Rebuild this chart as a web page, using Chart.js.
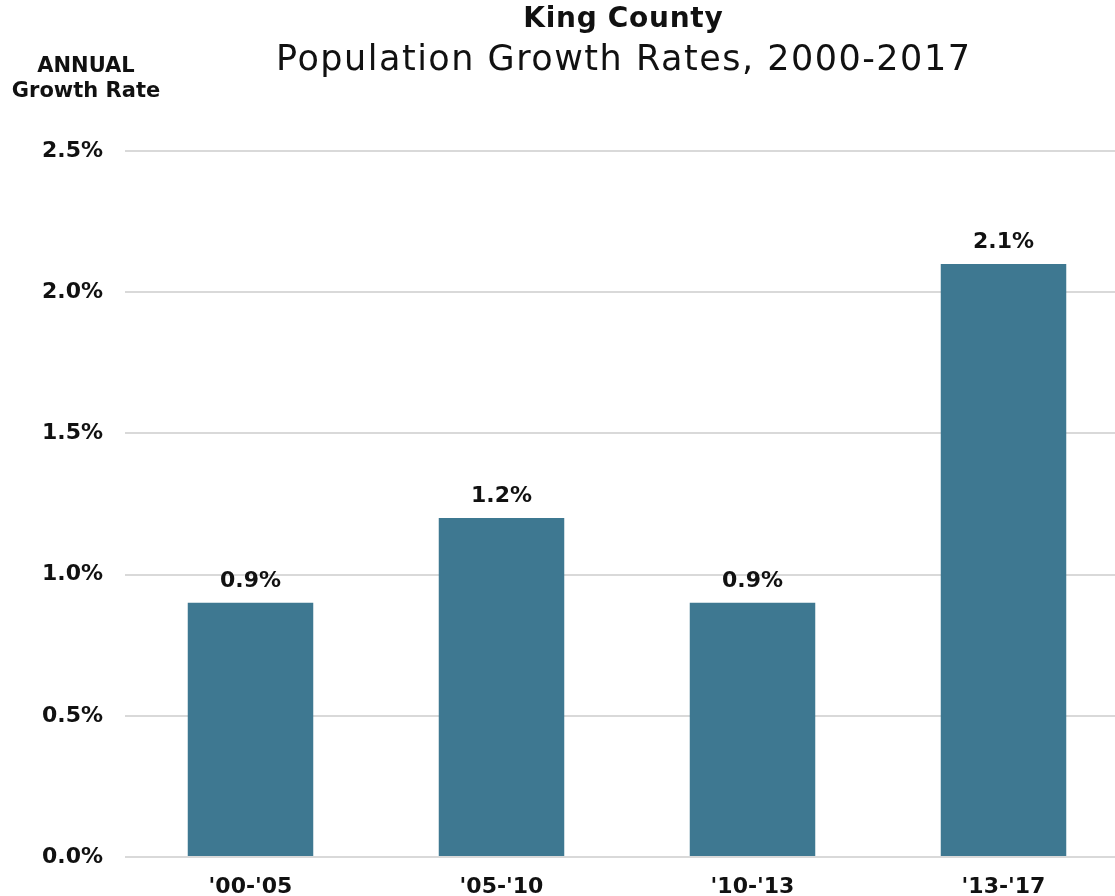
<!DOCTYPE html>
<html>
<head>
<meta charset="utf-8">
<title>King County Population Growth Rates, 2000-2017</title>
<script src="https://cdn.jsdelivr.net/npm/chart.js@4/dist/chart.umd.min.js"></script>
<style>
  html, body { margin: 0; padding: 0; background: #ffffff; overflow: hidden; }
  canvas { display: block; }
</style>
</head>
<body>
<canvas id="growth" width="1129" height="896"></canvas>
<script>
// Periods and annual growth rates (%)
const periods = ["'00-'05", "'05-'10", "'10-'13", "'13-'17"];
const growthRates = [0.9, 1.2, 0.9, 2.1];
const yTicks = [0, 0.5, 1.0, 1.5, 2.0, 2.5];

const titleText = 'King County';
const subtitleText = 'Population Growth Rates, 2000-2017';
const axisTitleLines = ['ANNUAL', 'Growth Rate'];

const FONT = '"DejaVu Sans", Verdana, sans-serif';
const INK = '#111111';
const BAR = '#3e7891';

// Centered text with optional tracking, compensating for the trailing gap
function spacedText(ctx, text, x, y, spacing) {
  ctx.letterSpacing = spacing + 'px';
  ctx.textAlign = 'center';
  ctx.fillText(text, x + spacing / 2, y);
  ctx.letterSpacing = '0px';
}

// Headings and the y axis caption
const headings = {
  id: 'headings',
  afterDraw(chart) {
    const ctx = chart.ctx;
    const cx = 623;
    ctx.save();
    ctx.fillStyle = INK;
    ctx.textBaseline = 'alphabetic';
    ctx.font = 'bold 28px ' + FONT;
    spacedText(ctx, titleText, cx, 27, 0.7);
    ctx.font = '35px ' + FONT;
    spacedText(ctx, subtitleText, cx, 70, 1.5);
    ctx.font = 'bold 21px ' + FONT;
    spacedText(ctx, axisTitleLines[0], 86, 72, 0);
    spacedText(ctx, axisTitleLines[1], 86, 97, 0);
    ctx.restore();
  }
};

// Value labels above each bar
const valueLabels = {
  id: 'valueLabels',
  afterDatasetsDraw(chart) {
    const ctx = chart.ctx;
    const meta = chart.getDatasetMeta(0);
    ctx.save();
    ctx.fillStyle = INK;
    ctx.textAlign = 'center';
    ctx.textBaseline = 'alphabetic';
    ctx.font = 'bold 22px ' + FONT;
    meta.data.forEach((bar, i) => {
      const v = chart.data.datasets[0].data[i];
      ctx.fillText(v.toFixed(1) + '%', bar.x, bar.y - 16);
    });
    ctx.restore();
  }
};

new Chart(document.getElementById('growth'), {
  type: 'bar',
  data: {
    labels: periods,
    datasets: [{
      data: growthRates,
      backgroundColor: BAR,
      borderWidth: 0,
      barPercentage: 0.5,
      categoryPercentage: 1.0
    }]
  },
  options: {
    responsive: false,
    animation: false,
    devicePixelRatio: 1,
    layout: { padding: { top: 151, left: 0, right: 0, bottom: 0 } },
    plugins: {
      legend: { display: false },
      tooltip: { enabled: false },
      title: { display: false }
    },
    scales: {
      x: {
        grid: { display: false, drawTicks: false },
        border: { display: false },
        ticks: {
          color: INK,
          padding: 17,
          maxRotation: 0,
          font: { family: FONT, size: 22, weight: 'bold' }
        },
        afterFit(scale) { scale.height = 39; }
      },
      y: {
        min: 0,
        max: 2.5,
        afterBuildTicks(scale) { scale.ticks = yTicks.map(v => ({ value: v })); },
        grid: { color: '#d9d9d9', lineWidth: 2, drawTicks: false },
        border: { display: false },
        ticks: {
          color: INK,
          padding: 22,
          font: { family: FONT, size: 22, weight: 'bold' },
          callback: v => Number(v).toFixed(1) + '%'
        },
        afterFit(scale) { scale.width = 125; }
      }
    }
  },
  plugins: [headings, valueLabels]
});
</script>
</body>
</html>
